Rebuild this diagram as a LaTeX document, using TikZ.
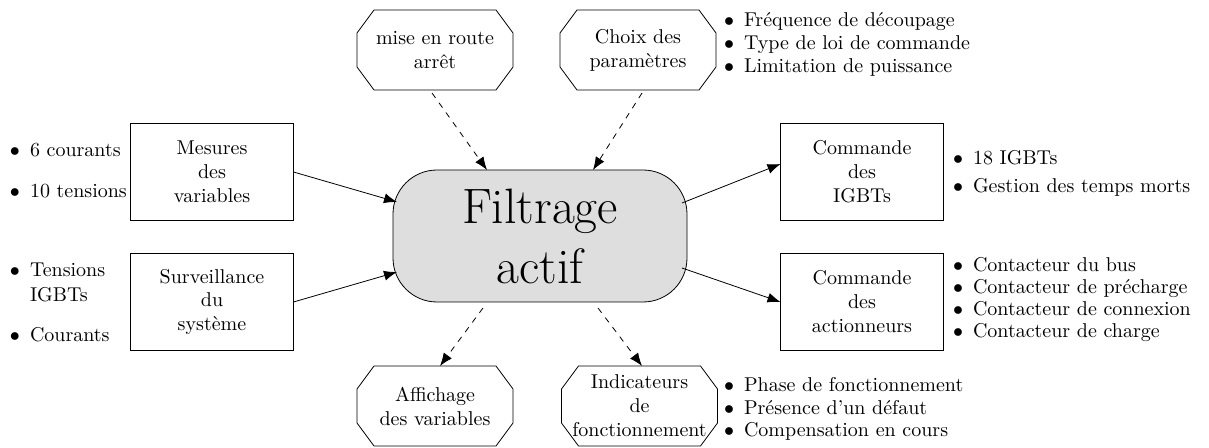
\documentclass[tikz,border=0pt]{standalone}
\usetikzlibrary{calc,arrows.meta}
\begin{document}
\begin{tikzpicture}[x=0.5pt,y=-0.5pt,
  every node/.style={inner sep=0pt,outer sep=0pt},
  centrebox/.style={draw,rounded corners=22pt,fill=black!13,minimum width=147pt,minimum height=66pt,font=\Huge,align=center},
  box/.style={draw,minimum width=81.5pt,minimum height=48.5pt,align=center},
  octo/.style={minimum width=78pt,minimum height=40pt,align=center},
  item/.style={anchor=base west},
  solidarrow/.style={-{Latex[length=6.5pt,width=5pt]}},
  dasharrow/.style={dashed,-{Latex[length=6.5pt,width=5pt]}}
]
\useasboundingbox (0,0) rectangle (1209,448);
\newcommand{\bul}{\makebox[10pt][l]{$\bullet$}}
\newcommand{\octoline}[1]{%
  \draw ($(#1.north west)+(8.5pt,0pt)$) -- ($(#1.north east)+(-8.5pt,0pt)$)
      -- ($(#1.north east)+(0pt,-11.5pt)$) -- ($(#1.south east)+(0pt,11.5pt)$)
      -- ($(#1.south east)+(-8.5pt,0pt)$) -- ($(#1.south west)+(8.5pt,0pt)$)
      -- ($(#1.south west)+(0pt,11.5pt)$) -- ($(#1.north west)+(0pt,-11.5pt)$) -- cycle;}

\node[centrebox] (centre) at (540,236) {Filtrage\\actif};

\node[box] (mes) at (212,172) {Mesures\\des\\variables};
\node[box] (sur) at (212,302) {Surveillance\\du\\syst\`eme};
\node[box] (cig) at (862,172) {Commande\\des\\IGBTs};
\node[box] (cac) at (862,302) {Commande\\des\\actionneurs};

\node[octo] (mise) at (435,50) {mise en route\\arr\^et};
\node[octo] (choix) at (638,50) {Choix des\\param\`etres};
\node[octo] (aff) at (435,406) {Affichage\\des variables};
\node[octo] (ind) at (639.5,406) {Indicateurs\\de\\fonctionnement};
\octoline{mise}
\octoline{choix}
\octoline{aff}
\octoline{ind}

% lists
\node[item] (l1) at (10,157) {\bul 6 courants};
\node[item] (l2) at (10,198) {\bul 10 tensions};
\node[item] (l3) at (10,277) {\bul Tensions};
\node[item] (l3b) at (30,302) {IGBTs};
\node[item] (l4) at (10,342) {\bul Courants};

\node[item] (c1) at (724,27) {\bul Fréquence de découpage};
\node[item] (c2) at (724,50) {\bul Type de loi de commande};
\node[item] (c3) at (724,73) {\bul Limitation de puissance};

\node[item] (r1) at (953,165) {\bul 18 IGBTs};
\node[item] (r2) at (953,193) {\bul Gestion des temps morts};

\node[item] (a1) at (953,272) {\bul Contacteur du bus};
\node[item] (a2) at (953,294) {\bul Contacteur de précharge};
\node[item] (a3) at (953,316) {\bul Contacteur de connexion};
\node[item] (a4) at (953,338) {\bul Contacteur de charge};

\node[item] (i1) at (724,392) {\bul Phase de fonctionnement};
\node[item] (i2) at (724,415) {\bul Présence d’un défaut};
\node[item] (i3) at (724,437) {\bul Compensation en cours};

% connectors
\draw[solidarrow] (mes.east) -- ($(centre.west)+(4,-34)$);
\draw[solidarrow] (sur.east) -- ($(centre.west)+(4,36)$);
\draw[solidarrow] ($(centre.east)+(-5,-33)$) -- ($(cig.west)+(0,-8)$);
\draw[solidarrow] ($(centre.east)+(-5,32)$) -- (cac.west);

\draw[dasharrow] ($(mise.south)+(-3,3)$) -- ($(centre.north)+(-53,0)$);
\draw[dasharrow] ($(choix.south)+(4,3)$) -- ($(centre.north)+(53,0)$);
\draw[dasharrow] ($(centre.south)+(-57,6)$) -- ($(aff.north)+(5,0)$);
\draw[dasharrow] ($(centre.south)+(58,6)$) -- ($(ind.north)+(2.5,0)$);
\end{tikzpicture}
\end{document}
